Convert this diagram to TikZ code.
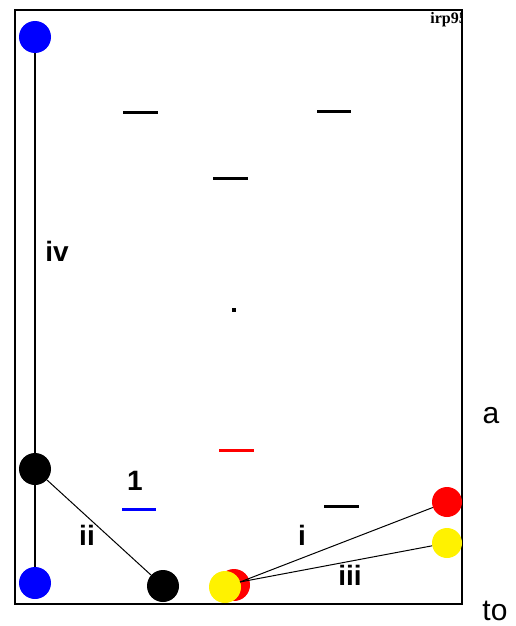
\documentclass[tikz,border=0pt]{standalone}
\usepackage{fontspec}
\setmainfont{Liberation Sans}
\newfontfamily\tagfont{Liberation Serif}
\begin{document}
\begin{tikzpicture}[x=1pt,y=-1pt]
    \tikzstyle{every node}=[inner sep=0pt]
    \tikzstyle{vertex}=[circle,minimum size=32pt]
    \tikzstyle{bar}=[line width=3pt]
    \tikzstyle{lbl}=[font=\bfseries\fontsize{28}{28}\selectfont]
    \tikzstyle{side}=[font=\fontsize{30}{30}\selectfont]
    \useasboundingbox (0,0) rectangle (515,626);
    % frame and tag
    \begin{scope}
    \clip (15,10) rectangle (462,604);
    \draw (467,20) node[anchor=east,font=\tagfont\bfseries\fontsize{16}{16}\selectfont] (tag) {irp95};
    \end{scope}
    \draw[line width=1.5pt] (15,10) rectangle (462,604);
    % vertices
    \draw (35,37) node[vertex,fill=blue] (bt) {};
    \draw (35,469) node[vertex,fill=black] (kl) {};
    \draw (35,583) node[vertex,fill=blue] (bb) {};
    \draw (163,586) node[vertex,fill=black] (kb) {};
    \draw (234,585) node[vertex,fill=red] (rb) {};
    \draw (225,587) node[vertex,fill=yellow] (yb) {};
    \draw (447,502) node[vertex,fill=red,minimum size=30pt] (rr) {};
    \draw (447,543) node[vertex,fill=yellow,minimum size=30pt] (yr) {};
    \coordinate (hub) at (240,582);
    % edges
    \draw[line width=1.2pt] (bt) -- (kl) -- (bb);
    \draw[line width=1pt] (kl) -- (kb);
    \draw[line width=1pt] (hub) -- (rr);
    \draw[line width=1pt] (hub) -- (yr);
    % dashes
    \draw[bar] (123,112) -- (158,112);
    \draw[bar] (317,111) -- (351,111);
    \draw[bar] (213,178) -- (248,178);
    \fill (232,308) rectangle (236,312);
    \draw[bar,red] (219,450) -- (254,450);
    \draw[bar,blue] (122,509) -- (156,509);
    \draw[bar] (324,506) -- (359,506);
    % labels
    \draw (57,251) node[lbl] (liv) {iv};
    \draw (87,535) node[lbl] (lii) {ii};
    \draw (302,535) node[lbl] (li) {i};
    \draw (350,575) node[lbl] (liii) {iii};
    \draw (135,481) node[lbl] (lone) {1};
    \draw (491,416) node[side] (la) {a};
    \draw (495,611) node[side] (lto) {to};
\end{tikzpicture}
\end{document}
